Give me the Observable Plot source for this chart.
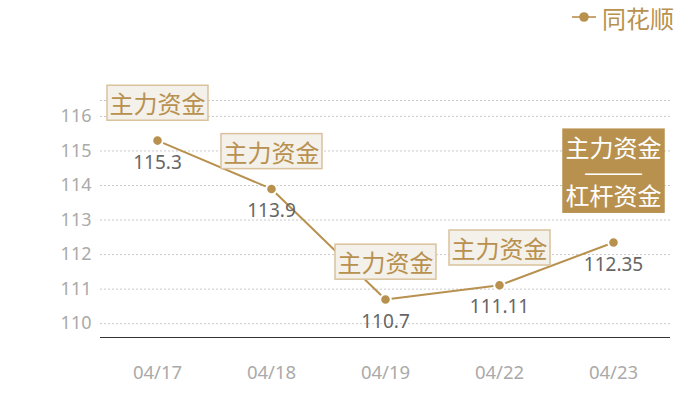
<!DOCTYPE html>
<html>
<head>
<meta charset="utf-8">
<script src="https://cdn.jsdelivr.net/npm/d3@7"></script>
<script src="https://cdn.jsdelivr.net/npm/@observablehq/plot@0.6"></script>
<style>
  html, body { margin: 0; padding: 0; background: #fff; }
  #wrap { position: relative; width: 700px; height: 400px; }
  #legend { position: absolute; left: 571px; top: 1px; display: flex; align-items: center; gap: 5px;
            font-family: "Noto Sans CJK SC", sans-serif; font-size: 24px; line-height: 34px; color: #b8914f; }
  #legend svg { display: block; }
</style>
</head>
<body>
<div id="wrap">
  <div id="legend"></div>
</div>
<script>
const dates = ["04/17", "04/18", "04/19", "04/22", "04/23"];
const values = [115.3, 113.9, 110.7, 111.11, 112.35];
const valueLabels = ["115.3", "113.9", "110.7", "111.11", "112.35"];
const annotations = ["主力资金", "主力资金", "主力资金", "主力资金", "主力资金\n———\n杠杆资金"];
const highlighted = [false, false, false, false, true];
const yTicks = [110, 111, 112, 113, 114, 115, 116];
const yDomain = [109.6, 116.46];
const seriesName = "同花顺";

const gold = "#b8914f";
const data = dates.map((d, i) => ({date: d, value: values[i], label: valueLabels[i], ann: annotations[i], hi: highlighted[i]}));
const lightAnn = data.filter(d => !d.hi);
const darkAnn = data.filter(d => d.hi);

const chart = Plot.plot({
  width: 700,
  height: 400,
  marginLeft: 100,
  marginRight: 30,
  marginTop: 100,
  marginBottom: 63,
  style: {fontFamily: "'Noto Sans', sans-serif", fontSize: "18px", background: "#fff", overflow: "visible"},
  x: {type: "point", domain: dates, padding: 0.5},
  y: {domain: yDomain},
  marks: [
    Plot.ruleY(yTicks.concat([yDomain[1]]), {stroke: "#c8c8c8", strokeDasharray: "2,2"}),
    Plot.ruleY([yDomain[0]], {stroke: "#333", strokeWidth: 1.2}),
    Plot.axisY({ticks: yTicks, tickFormat: d3.format("d"), tickSize: 0, tickPadding: 9, color: "#aaa", label: null, fontSize: 18}),
    Plot.axisX({tickSize: 0, tickPadding: 28, color: "#aaa", label: null, fontSize: 18.5}),
    Plot.line(data, {x: "date", y: "value", stroke: gold, strokeWidth: 2}),
    Plot.dot(data, {x: "date", y: "value", r: 5.3, fill: gold, stroke: "#fff", strokeWidth: 2}),
    Plot.text(data, {x: "date", y: "value", text: "label", dy: 22, fill: "#666", fontSize: 19}),
    Plot.text(lightAnn, {x: "date", y: "value", text: "ann", dy: -35, fill: gold, fontSize: 24,
                         fontFamily: "'Noto Sans CJK SC', sans-serif"}),
    Plot.text(darkAnn, {x: "date", y: "value", text: "ann", dy: -69, fill: "#fff", fontSize: 24, lineHeight: 1,
                        fontFamily: "'Noto Sans CJK SC', sans-serif"})
  ]
});

document.getElementById("wrap").appendChild(chart);

// Draw background boxes behind the annotation texts
const textGroups = chart.querySelectorAll('g[aria-label="text"]');
function boxify(group, fill, stroke) {
  group.querySelectorAll("text").forEach(t => {
    const b = t.getBBox();
    const r = document.createElementNS("http://www.w3.org/2000/svg", "rect");
    r.setAttribute("x", b.x - 2.5);
    r.setAttribute("y", b.y);
    r.setAttribute("width", b.width + 5);
    r.setAttribute("height", b.height);
    r.setAttribute("fill", fill);
    r.setAttribute("stroke", stroke);
    r.setAttribute("stroke-width", 1.5);
    const tr = t.getAttribute("transform");
    if (tr) r.setAttribute("transform", tr);
    group.insertBefore(r, t);
  });
}
if (textGroups.length >= 3) {
  boxify(textGroups[1], "#f4f0ea", "#d9c29c");
  boxify(textGroups[2], gold, gold);
}

// Legend
const leg = document.getElementById("legend");
const ls = d3.create("svg").attr("width", 26).attr("height", 34);
ls.append("line").attr("x1", 1).attr("x2", 25).attr("y1", 16).attr("y2", 16).attr("stroke", "#c9a66f").attr("stroke-width", 2);
ls.append("circle").attr("cx", 13).attr("cy", 16).attr("r", 4.8).attr("fill", gold);
leg.appendChild(ls.node());
const span = document.createElement("span");
span.textContent = seriesName;
leg.appendChild(span);
</script>
</body>
</html>
